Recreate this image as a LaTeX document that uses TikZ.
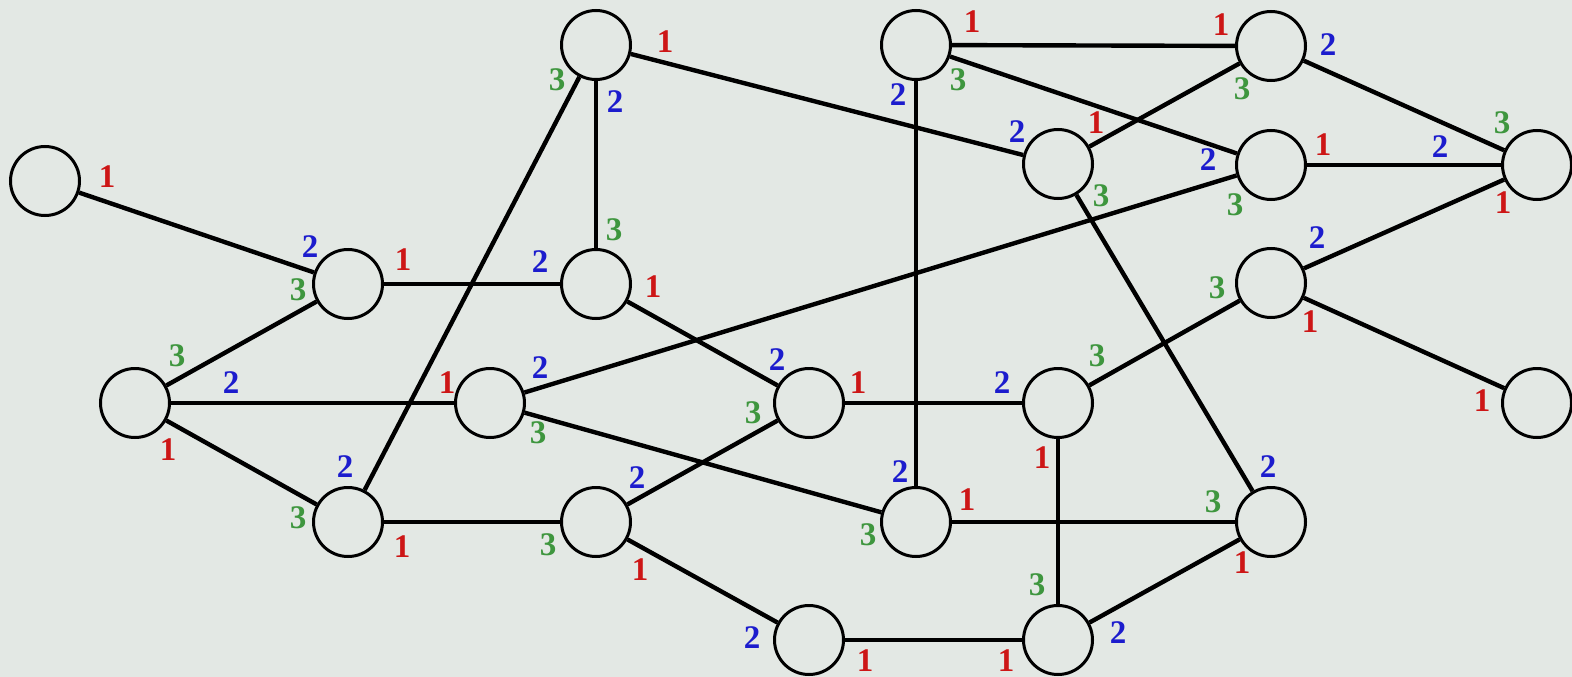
\documentclass[tikz,border=0pt]{standalone}
\usepackage{fontspec}
\setmainfont{Liberation Serif}
\definecolor{paper}{RGB}{227,232,228}
\definecolor{portone}{RGB}{205,22,22}
\definecolor{porttwo}{RGB}{28,28,205}
\definecolor{portthree}{RGB}{62,150,62}
\tikzset{
  vtx/.style={circle, draw=black, line width=3pt, minimum size=69pt, inner sep=0pt, fill=paper},
  lnk/.style={line width=4.4pt, black},
  plab/.style={inner sep=0pt, font=\fontsize{33}{33}\selectfont\bfseries},
  p1/.style={plab, text=portone},
  p2/.style={plab, text=porttwo},
  p3/.style={plab, text=portthree},
}
\begin{document}
\begin{tikzpicture}[x=1pt, y=-1pt]
  \fill[paper] (0,0) rectangle (1572,677);
  \useasboundingbox (0,0) rectangle (1572,677);

  % vertices
  \node[vtx] (A) at (45,181) {};
  \node[vtx] (B) at (348,284) {};
  \node[vtx] (C) at (135,403) {};
  \node[vtx] (D) at (348,522) {};
  \node[vtx] (E) at (596,45) {};
  \node[vtx] (F) at (596,284) {};
  \node[vtx] (G) at (490,403) {};
  \node[vtx] (H) at (596,522) {};
  \node[vtx] (I) at (809,403) {};
  \node[vtx] (J) at (809,640) {};
  \node[vtx] (K) at (916,45) {};
  \node[vtx] (L) at (1058,164) {};
  \node[vtx] (M) at (1058,403) {};
  \node[vtx] (N) at (916,522) {};
  \node[vtx] (O) at (1058,640) {};
  \node[vtx] (P) at (1271,46) {};
  \node[vtx] (Q) at (1271,165) {};
  \node[vtx] (R) at (1537,165) {};
  \node[vtx] (S) at (1271,283) {};
  \node[vtx] (T) at (1537,403) {};
  \node[vtx] (U) at (1271,522) {};

  % links
  \foreach \u/\v in {A/B, B/F, B/C, C/G, C/D, D/E, D/H, E/F, E/L, F/I,
                     G/Q, G/N, H/I, H/J, I/M, J/O, K/P, K/Q, K/N, L/P,
                     L/U, M/S, M/O, N/U, O/U, P/R, Q/R, S/R, S/T}
    \draw[lnk] (\u) -- (\v);

  % port numbers
  \node[p1] (a1) at (107,177) {1};
  \node[p2] (b2) at (310,247) {2};
  \node[p3] (b3) at (298,290) {3};
  \node[p1] (b1) at (403,260) {1};
  \node[p3] (c3) at (177,356) {3};
  \node[p2] (c2) at (231,383) {2};
  \node[p1] (c1) at (168,450) {1};
  \node[p2] (d2) at (345,467) {2};
  \node[p3] (d3) at (298,518) {3};
  \node[p1] (d1) at (402,547) {1};
  \node[p1] (e1) at (665,42) {1};
  \node[p3] (e3) at (557,80) {3};
  \node[p2] (e2) at (615,102) {2};
  \node[p3] (f3) at (614,230) {3};
  \node[p2] (f2) at (540,262) {2};
  \node[p1] (f1) at (653,287) {1};
  \node[p1] (g1) at (447,383) {1};
  \node[p2] (g2) at (540,368) {2};
  \node[p3] (g3) at (538,433) {3};
  \node[p2] (h2) at (637,478) {2};
  \node[p3] (h3) at (548,545) {3};
  \node[p1] (h1) at (640,570) {1};
  \node[p2] (i2) at (777,360) {2};
  \node[p1] (i1) at (858,383) {1};
  \node[p3] (i3) at (753,413) {3};
  \node[p2] (j2) at (752,638) {2};
  \node[p1] (j1) at (865,661) {1};
  \node[p1] (k1) at (972,22) {1};
  \node[p3] (k3) at (958,80) {3};
  \node[p2] (k2) at (898,95) {2};
  \node[p2] (l2) at (1017,132) {2};
  \node[p1] (l1) at (1096,123) {1};
  \node[p3] (l3) at (1101,196) {3};
  \node[p2] (m2) at (1002,383) {2};
  \node[p3] (m3) at (1097,356) {3};
  \node[p1] (m1) at (1042,458) {1};
  \node[p2] (n2) at (900,472) {2};
  \node[p1] (n1) at (967,500) {1};
  \node[p3] (n3) at (868,535) {3};
  \node[p3] (o3) at (1037,585) {3};
  \node[p2] (o2) at (1118,633) {2};
  \node[p1] (o1) at (1006,661) {1};
  \node[p1] (q1a) at (1221,25) {1};
  \node[p2] (pp2) at (1328,45) {2};
  \node[p3] (pp3) at (1242,89) {3};
  \node[p2] (q2) at (1208,160) {2};
  \node[p1] (q1) at (1323,145) {1};
  \node[p3] (q3) at (1235,205) {3};
  \node[p3] (r3) at (1502,123) {3};
  \node[p2] (r2) at (1440,147) {2};
  \node[p1] (r1) at (1503,203) {1};
  \node[p2] (s2) at (1317,238) {2};
  \node[p3] (s3) at (1217,288) {3};
  \node[p1] (s1) at (1310,322) {1};
  \node[p1] (t1) at (1482,401) {1};
  \node[p2] (u2) at (1268,467) {2};
  \node[p3] (u3) at (1213,502) {3};
  \node[p1] (u1) at (1242,563) {1};
\end{tikzpicture}
\end{document}
